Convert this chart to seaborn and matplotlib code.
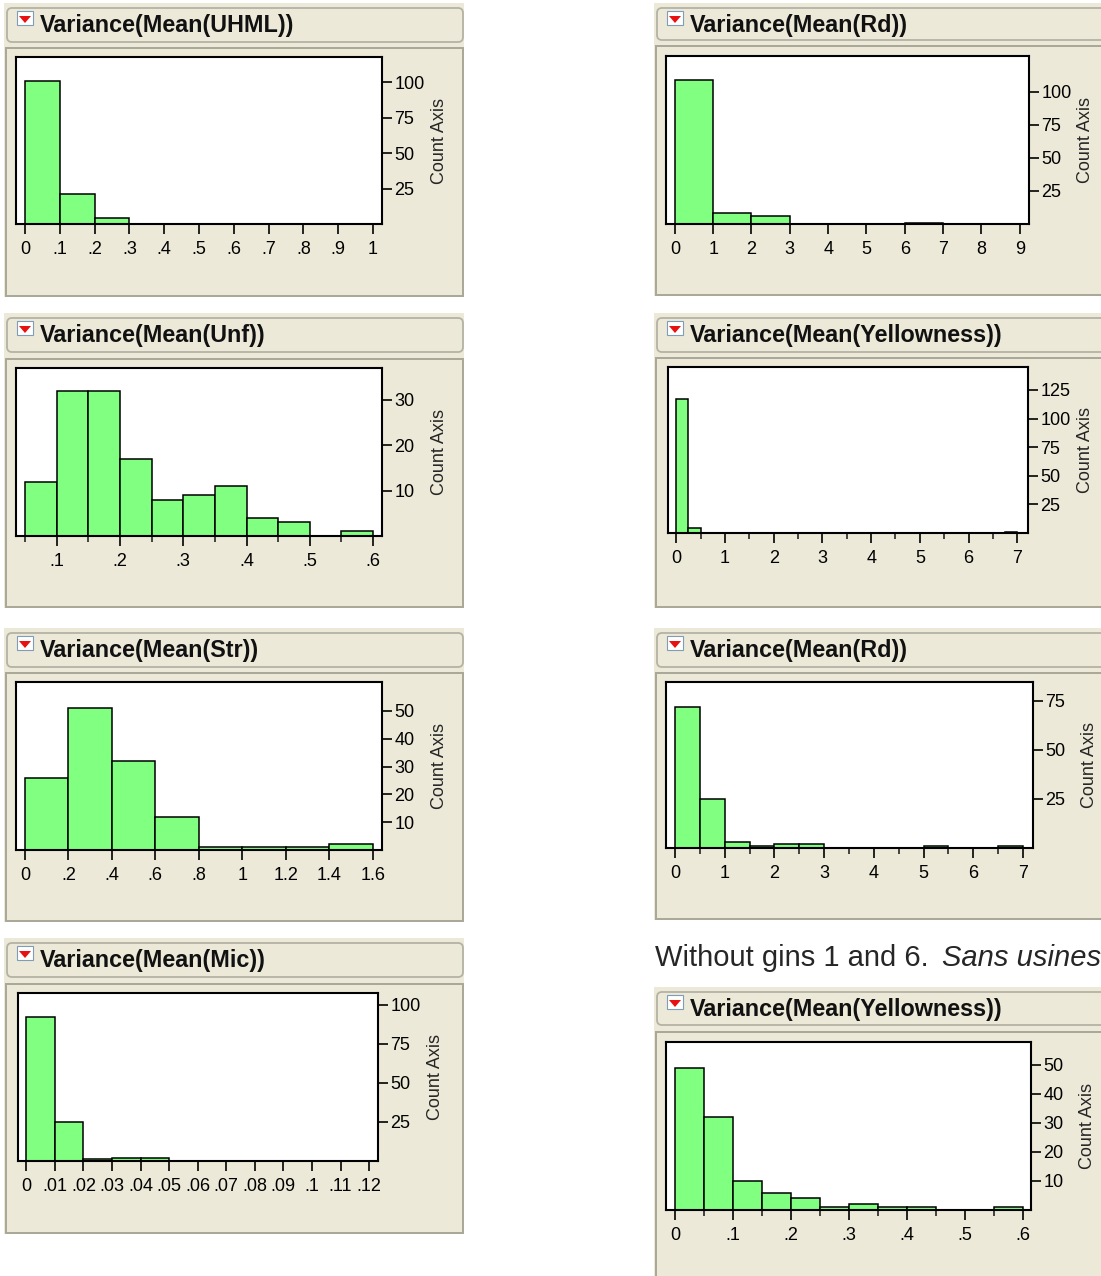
import numpy as np
import pandas as pd
import seaborn as sns
import matplotlib.pyplot as plt
from matplotlib.patches import FancyBboxPatch, Rectangle, Polygon
from matplotlib.transforms import Affine2D

# bin counts
uhml_counts = [101, 21, 4, 0, 0, 0, 0, 0, 0, 0]
uhml_start, uhml_width = 0.0, 0.1
uhml_xticks = [0, .1, .2, .3, .4, .5, .6, .7, .8, .9, 1]
uhml_xlabels = ['0', '.1', '.2', '.3', '.4', '.5', '.6', '.7', '.8', '.9', '1']
uhml_yticks = [25, 50, 75, 100]

unf_counts = [12, 32, 32, 17, 8, 9, 11, 4, 3, 0, 1]
unf_start, unf_width = 0.05, 0.05
unf_xticks = [.1, .2, .3, .4, .5, .6]
unf_xlabels = ['.1', '.2', '.3', '.4', '.5', '.6']
unf_yticks = [10, 20, 30]

str_counts = [26, 51, 32, 12, 1, 1, 1, 2]
str_start, str_width = 0.0, 0.2
str_xticks = [0, .2, .4, .6, .8, 1, 1.2, 1.4, 1.6]
str_xlabels = ['0', '.2', '.4', '.6', '.8', '1', '1.2', '1.4', '1.6']
str_yticks = [10, 20, 30, 40, 50]

mic_counts = [92, 25, 1, 2, 2, 0, 0, 0, 0, 0, 0, 0]
mic_start, mic_width = 0.0, 0.01
mic_xticks = [0, .01, .02, .03, .04, .05, .06, .07, .08, .09, .1, .11, .12]
mic_xlabels = ['0', '.01', '.02', '.03', '.04', '.05', '.06', '.07', '.08', '.09', '.1', '.11', '.12']
mic_yticks = [25, 50, 75, 100]

rd_counts = [109, 8, 6, 0, 0, 0, 1, 0, 0]
rd_start, rd_width = 0.0, 1.0
rd_xticks = [0, 1, 2, 3, 4, 5, 6, 7, 8, 9]
rd_xlabels = ['0', '1', '2', '3', '4', '5', '6', '7', '8', '9']
rd_yticks = [25, 50, 75, 100]

yel_counts = [117, 4, 0, 0, 0, 0, 0, 0, 0, 0, 0, 0, 0, 0,
              0, 0, 0, 0, 0, 0, 0, 0, 0, 0, 0, 0, 0, 1]
yel_start, yel_width = 0.0, 0.25
yel_xticks = [0, 1, 2, 3, 4, 5, 6, 7]
yel_xlabels = ['0', '1', '2', '3', '4', '5', '6', '7']
yel_yticks = [25, 50, 75, 100, 125]

rd2_counts = [72, 25, 3, 1, 2, 2, 0, 0, 0, 0, 1, 0, 0, 1]
rd2_start, rd2_width = 0.0, 0.5
rd2_xticks = [0, 1, 2, 3, 4, 5, 6, 7]
rd2_xlabels = ['0', '1', '2', '3', '4', '5', '6', '7']
rd2_yticks = [25, 50, 75]

yel2_counts = [49, 32, 10, 6, 4, 1, 2, 1, 1, 0, 0, 1]
yel2_start, yel2_width = 0.0, 0.05
yel2_xticks = [0, .1, .2, .3, .4, .5, .6]
yel2_xlabels = ['0', '.1', '.2', '.3', '.4', '.5', '.6']
yel2_yticks = [10, 20, 30, 40, 50]

note_plain = 'Without gins 1 and 6.'
note_italic = 'Sans usines'

W, H = 1101, 1276
BEIGE = '#ECE9D8'
GREEN = '#80FF80'

sns.set_style('white')
plt.rcParams['font.family'] = ['Liberation Sans', 'DejaVu Sans']

fig = plt.figure(figsize=(W / 100, H / 100), dpi=100)
fig.patch.set_facecolor('white')
# pixel coords, origin top-left
PX = Affine2D().scale(1 / W, -1 / H).translate(0, 1) + fig.transFigure

# layout per panel: column x range, title bar (top, bottom), body (top, bottom), plot box (l, t, r, b)
panels = [
    dict(name='Variance(Mean(UHML))', counts=uhml_counts, start=uhml_start, width=uhml_width,
         xt=uhml_xticks, xl=uhml_xlabels, yt=uhml_yticks, col=(7, 463),
         title=(8, 42), body=(48, 296), box=(16, 57, 382, 224), xlim=(-0.026, 1.026), ylim=118, minor=None),
    dict(name='Variance(Mean(Unf))', counts=unf_counts, start=unf_start, width=unf_width,
         xt=unf_xticks, xl=unf_xlabels, yt=unf_yticks, col=(7, 463),
         title=(318, 352), body=(359, 607), box=(16, 368, 382, 536), xlim=(0.0357, 0.614), ylim=37, minor=0.05),
    dict(name='Variance(Mean(Str))', counts=str_counts, start=str_start, width=str_width,
         xt=str_xticks, xl=str_xlabels, yt=str_yticks, col=(7, 463),
         title=(633, 667), body=(673, 921), box=(16, 682, 382, 850), xlim=(-0.041, 1.643), ylim=60.4, minor=None),
    dict(name='Variance(Mean(Mic))', counts=mic_counts, start=mic_start, width=mic_width,
         xt=mic_xticks, xl=mic_xlabels, yt=mic_yticks, col=(7, 463),
         title=(943, 977), body=(984, 1233), box=(18, 993, 378, 1161), xlim=(-0.0029, 0.1231), ylim=107.5, minor=None),
    dict(name='Variance(Mean(Rd))', counts=rd_counts, start=rd_start, width=rd_width,
         xt=rd_xticks, xl=rd_xlabels, yt=rd_yticks, col=(657, 1110),
         title=(8, 40), body=(46, 295), box=(666, 56, 1029, 224), xlim=(-0.23, 9.24), ylim=127, minor=None),
    dict(name='Variance(Mean(Yellowness))', counts=yel_counts, start=yel_start, width=yel_width,
         xt=yel_xticks, xl=yel_xlabels, yt=yel_yticks, col=(657, 1110),
         title=(318, 352), body=(358, 607), box=(668, 367, 1028, 533), xlim=(-0.17, 7.22), ylim=145, minor=0.5),
    dict(name='Variance(Mean(Rd))', counts=rd2_counts, start=rd2_start, width=rd2_width,
         xt=rd2_xticks, xl=rd2_xlabels, yt=rd2_yticks, col=(657, 1110),
         title=(633, 667), body=(673, 919), box=(666, 682, 1033, 848), xlim=(-0.18, 7.2), ylim=84.5, minor=0.5),
    dict(name='Variance(Mean(Yellowness))', counts=yel2_counts, start=yel2_start, width=yel2_width,
         xt=yel2_xticks, xl=yel2_xlabels, yt=yel2_yticks, col=(657, 1110),
         title=(992, 1025), body=(1032, 1290), box=(666, 1042, 1031, 1210), xlim=(-0.0155, 0.6144), ylim=57.8, minor=0.05),
]

for p in panels:
    x0, x1 = p['col']
    # beige window background
    fig.add_artist(Rectangle((x0 - 3, p['title'][0] - 5), x1 - x0 + 4, p['body'][1] - p['title'][0] + 6,
                             transform=PX, facecolor=BEIGE, edgecolor='none', zorder=-5))
    # title bar
    fig.add_artist(FancyBboxPatch((x0, p['title'][0]), x1 - x0, p['title'][1] - p['title'][0],
                                  boxstyle='round,pad=0,rounding_size=5', transform=PX,
                                  facecolor=BEIGE, edgecolor='#b4b2a4', linewidth=1.3, zorder=-4))
    # outline box
    fig.add_artist(Rectangle((x0 - 1, p['body'][0]), x1 - x0 + 1, p['body'][1] - p['body'][0],
                             transform=PX, facecolor=BEIGE, edgecolor='#a9a797', linewidth=1.4, zorder=-4))
    # red disclosure icon
    ix = x0 + 10
    iy = p['title'][0] + 3
    fig.add_artist(Rectangle((ix, iy), 16, 14, transform=PX, facecolor='white',
                             edgecolor='#7f9db9', linewidth=0.8, zorder=-3))
    fig.add_artist(Polygon([(ix + 2, iy + 5), (ix + 14, iy + 5), (ix + 8, iy + 12)], closed=True,
                           transform=PX, facecolor='#e81010', edgecolor='none', zorder=-2))
    fig.text(x0 + 33, p['title'][0] + 24, p['name'], transform=PX, fontsize=16.8, fontweight='bold',
             ha='left', va='baseline', color='#111111', zorder=3)

    l, t, r, b = p['box']
    ax = fig.add_axes([l / W, 1 - b / H, (r - l) / W, (b - t) / H])
    ax.set_facecolor('white')

    counts = np.array(p['counts'], dtype=float)
    edges = p['start'] + p['width'] * np.arange(len(counts) + 1)
    mids = (edges[:-1] + edges[1:]) / 2
    df = pd.DataFrame({'value': mids, 'count': counts})
    sns.histplot(data=df, x='value', weights='count', bins=list(edges), ax=ax,
                 color=GREEN, alpha=1, edgecolor='black', linewidth=1.1)
    for patch in ax.patches:
        if patch.get_height() == 0:
            patch.set_visible(False)

    ax.set_xlim(*p['xlim'])
    ax.set_ylim(0, p['ylim'])
    ax.set_xticks(p['xt'])
    ax.set_xticklabels(p['xl'])
    if p['minor']:
        minor = [v + p['minor'] for v in p['xt'][:-1]]
        if p['xt'][0] - p['minor'] >= p['xlim'][0]:
            minor = [p['xt'][0] - p['minor']] + minor
        ax.set_xticks(minor, minor=True)
    ax.set_yticks(p['yt'])
    ax.yaxis.tick_right()
    ax.set_xlabel('')
    ax.set_ylabel('Count Axis', fontsize=13)
    ax.yaxis.set_label_position('right')
    ax.yaxis.label.set_va('center')
    ax.yaxis.set_label_coords((r + 57 - l) / (r - l), 0.5)

    for s in ax.spines.values():
        s.set_visible(True)
        s.set_color('black')
        s.set_linewidth(1.5)
    ax.tick_params(axis='x', which='major', direction='out', length=7.5, width=1.2,
                   pad=4.5, labelsize=13, bottom=True, colors='black')
    ax.tick_params(axis='x', which='minor', direction='out', length=4.5, width=1.2, bottom=True)
    ax.tick_params(axis='y', which='major', direction='out', length=7.5, width=1.2,
                   pad=1.5, labelsize=13, right=True, left=False, colors='black')

# caption above the last panel
fig.text(655, 966, note_plain, transform=PX, fontsize=21, ha='left', va='baseline')
fig.text(942, 966, note_italic, transform=PX, fontsize=21, style='italic', ha='left', va='baseline')

fig.savefig('out.png', dpi=100, facecolor='white')
